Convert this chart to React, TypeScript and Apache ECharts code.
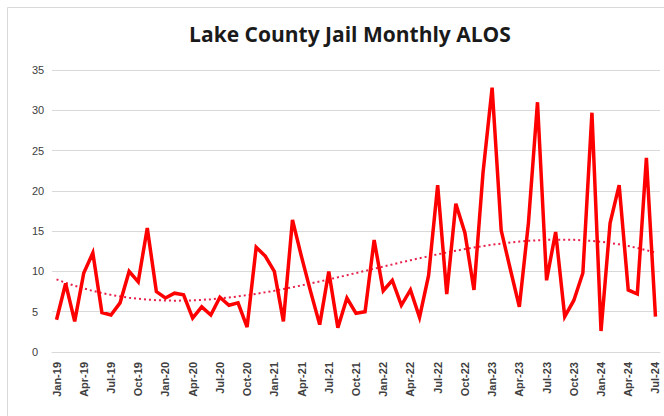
import React, { useEffect, useRef } from "react";
import * as echarts from "echarts";

const years = ["19", "20", "21", "22", "23", "24"];
const monthNames = ["Jan", "Feb", "Mar", "Apr", "May", "Jun", "Jul", "Aug", "Sep", "Oct", "Nov", "Dec"];
const categories: string[] = [];
years.forEach((y) => monthNames.forEach((m) => categories.push(`${m}-${y}`)));
categories.splice(67);

const alos = [
  4.0, 8.5, 3.8, 9.8, 12.3, 4.9, 4.6, 6.1, 10.0, 8.7, 15.4, 7.5,
  6.7, 7.3, 7.1, 4.2, 5.6, 4.6, 6.8, 5.8, 6.1, 3.1, 13.0, 11.9,
  10.0, 3.8, 16.4, 11.8, 7.5, 3.4, 10.0, 3.0, 6.7, 4.8, 5.0, 13.9,
  7.6, 8.9, 5.8, 7.7, 4.3, 9.5, 20.7, 7.2, 18.4, 14.8, 7.7, 22.3,
  32.8, 15.1, 10.3, 5.6, 16.0, 31.0, 8.9, 14.9, 4.4, 6.4, 9.8, 29.7,
  2.6, 16.0, 20.7, 7.7, 7.2, 24.1, 4.4,
];

const yTicks = [0, 5, 10, 15, 20, 25, 30, 35];
const TITLE = "Lake County Jail Monthly ALOS";

// Polynomial (order 3) least-squares trendline, as Excel computes it from the data
function polyFit(ys: number[], order: number): number[] {
  const n = ys.length;
  const xs = ys.map((_, i) => i / (n - 1));
  const m = order + 1;
  const A: number[][] = Array.from({ length: m }, () => new Array(m + 1).fill(0));
  for (let r = 0; r < m; r++) {
    for (let c = 0; c < m; c++) {
      let s = 0;
      for (let k = 0; k < n; k++) s += Math.pow(xs[k], r + c);
      A[r][c] = s;
    }
    let s = 0;
    for (let k = 0; k < n; k++) s += ys[k] * Math.pow(xs[k], r);
    A[r][m] = s;
  }
  for (let i = 0; i < m; i++) {
    let p = i;
    for (let r = i + 1; r < m; r++) if (Math.abs(A[r][i]) > Math.abs(A[p][i])) p = r;
    [A[i], A[p]] = [A[p], A[i]];
    for (let r = 0; r < m; r++) {
      if (r === i) continue;
      const f = A[r][i] / A[i][i];
      for (let c = i; c <= m; c++) A[r][c] -= f * A[i][c];
    }
  }
  const coef = A.map((row, i) => row[m] / row[i]);
  return xs.map((x) => coef.reduce((acc, c, j) => acc + c * Math.pow(x, j), 0));
}

export default function App() {
  const ref = useRef<HTMLDivElement>(null);
  useEffect(() => {
    if (!ref.current) return;
    const chart = echarts.init(ref.current, undefined, { renderer: "svg" });
    const trend = polyFit(alos, 3);
    chart.setOption({
      animation: false,
      backgroundColor: "#ffffff",
      title: {
        text: TITLE,
        left: 345,
        top: 18,
        textAlign: "center",
        textStyle: {
          fontFamily: "Open Sans",
          fontWeight: "bold",
          fontSize: 21,
          color: "#1a1a1a",
        },
      },
      graphic: [
        {
          type: "rect",
          shape: { x: 7.5, y: 7.5, width: 700, height: 450 },
          style: { fill: "none", stroke: "#d9d9d9", lineWidth: 1 },
          silent: true,
        },
      ],
      grid: { left: 52, right: 4, top: 70, bottom: 64, containLabel: false },
      xAxis: {
        type: "category",
        data: categories,
        boundaryGap: true,
        axisLine: { show: true, lineStyle: { color: "#d9d9d9" } },
        axisTick: { show: false },
        axisLabel: {
          interval: 2,
          rotate: 90,
          margin: 10,
          fontFamily: "Liberation Sans",
          fontWeight: "bold",
          fontSize: 11,
          color: "#404040",
        },
      },
      yAxis: {
        type: "value",
        min: 0,
        max: 35,
        interval: 5,
        axisLine: { show: false },
        axisTick: { show: false },
        splitLine: { lineStyle: { color: "#d9d9d9", width: 1 } },
        axisLabel: {
          align: "left",
          margin: 20,
          fontFamily: "Liberation Sans",
          fontSize: 11,
          color: "#404040",
          customValues: yTicks,
        },
      },
      series: [
        {
          name: "ALOS",
          type: "line",
          data: alos,
          symbol: "none",
          lineStyle: { color: "#ff0000", width: 3.5, join: "miter" },
          z: 3,
        },
        {
          name: "Trend",
          type: "line",
          data: trend,
          symbol: "none",
          smooth: false,
          lineStyle: { color: "#e8204a", width: 2, type: [2, 3] },
          z: 2,
        },
      ],
    });
    return () => chart.dispose();
  }, []);
  return (
    <div
      ref={ref}
      style={{ position: "fixed", left: 0, top: 0, width: 664, height: 416 }}
    />
  );
}
